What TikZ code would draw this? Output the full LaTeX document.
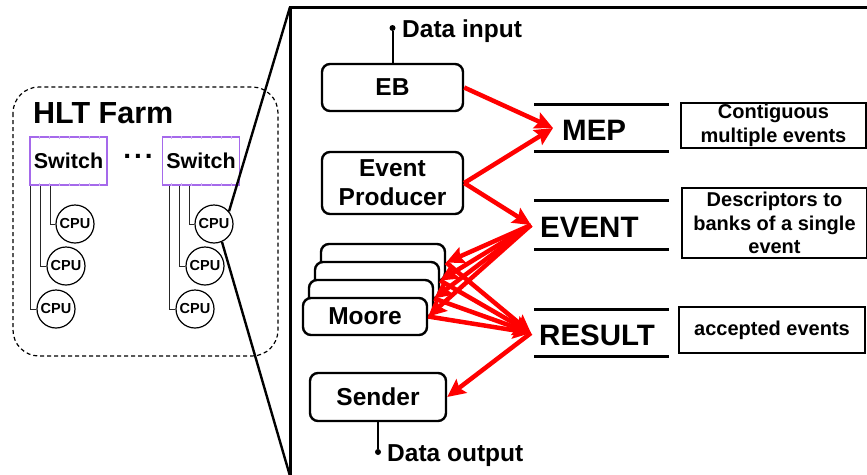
\documentclass[tikz,border=0pt]{standalone}
\usepackage{fontspec}
\setmainfont{Liberation Sans}
\usetikzlibrary{arrows.meta,calc}
\definecolor{swpurple}{RGB}{165,105,235}
\definecolor{tickpurple}{RGB}{205,175,245}
\begin{document}
\begin{tikzpicture}[x=1pt,y=-1pt,
  rbox/.style={draw, line width=2.4pt, rounded corners=8pt, fill=white, inner sep=0pt,
    font=\bfseries\fontsize{24.5}{29}\selectfont, align=center},
  desc/.style={draw, line width=1.6pt, inner sep=0pt,
    font=\bfseries\fontsize{20}{23.5}\selectfont, align=center},
  bustag/.style={anchor=base west, inner sep=0pt, font=\bfseries\fontsize{29.5}{34}\selectfont},
  hrule/.style={line width=3pt},
  redflow/.style={draw=red, line width=4.5pt, -{Stealth[length=18pt,width=17pt,inset=3pt]}},
  switchbox/.style={draw=swpurple, line width=1.5pt, minimum width=77pt, minimum height=48pt,
    inner sep=0pt, font=\bfseries\fontsize{21.5}{26}\selectfont},
  cpu/.style={draw, circle, line width=1.2pt, minimum size=38pt, inner sep=0pt, fill=white,
    font=\bfseries\fontsize{14.5}{16}\selectfont},
  wire/.style={line width=1pt, draw=black!85},
  joint/.style={circle, fill=black, inner sep=0pt, minimum size=6pt},
  iolabel/.style={anchor=base west, inner sep=0pt, font=\bfseries\fontsize{24.5}{29}\selectfont},
  tick/.style={draw=tickpurple, line width=0.8pt},
]
\useasboundingbox (0,0) rectangle (867,474);

% ---------- HLT farm ----------
\draw[dash pattern=on 4pt off 3pt, line width=1.2pt, rounded corners=26pt] (13,87) rectangle (278,356);
\node[anchor=base west, inner sep=0pt, font=\bfseries\fontsize{30.5}{34}\selectfont] (farm) at (33,123) {HLT Farm};

\node[switchbox] (sw1) at (68.5,161) {Switch};
\node[switchbox] (sw2) at (201,161) {Switch};
\node[anchor=base, inner sep=0pt, font=\bfseries\fontsize{28}{32}\selectfont] (dots) at (138,158.5) {.\kern3pt.\kern3pt.};

\foreach \s in {sw1,sw2}
  \foreach \k in {1,...,7} {
    \draw[tick] ($(\s.north west)+(10*\k,0)$) -- ++(0,2.5);
    \draw[tick] ($(\s.south west)+(10*\k,0)$) -- ++(0,-2.5);
  }

\node[cpu] (c11) at (75,224) {CPU};
\node[cpu] (c12) at (66,266) {CPU};
\node[cpu] (c13) at (56,309) {CPU};
\node[cpu] (c21) at (214,224) {CPU};
\node[cpu] (c22) at (205,266) {CPU};
\node[cpu] (c23) at (195,309) {CPU};

\draw[wire] (sw1.south west) ++(21,0) |- (c11.west);
\draw[wire] (sw1.south west) ++(11,0) |- (c12.west);
\draw[wire] (sw1.south west) ++(1,0)  |- (c13.west);
\draw[wire] (sw2.south west) ++(27.5,0) |- (c21.west);
\draw[wire] (sw2.south west) ++(17.5,0) |- (c22.west);
\draw[wire] (sw2.south west) ++(8,0)  |- (c23.west);

% ---------- magnified frame ----------
\coordinate (ftl) at (290,7);
\coordinate (fbl) at (290,476);
\draw[line width=3pt] (fbl) -- (ftl) -- (870,7);
\draw[line width=2.4pt] (ftl) -- (c21.40);
\draw[line width=2.4pt] (c21.-66) -- (fbl);

% ---------- processing chain ----------
\node[rbox, minimum width=141pt, minimum height=47pt] (eb) at (392.5,87.5) {EB};
\node[rbox, minimum width=141pt, minimum height=62pt] (ep) at (392.5,183) {Event\\Producer};

\node[rbox, minimum width=124pt, minimum height=37pt] (m4) at (383,262.5) {};
\node[rbox, minimum width=124pt, minimum height=37pt] (m3) at (377,280.5) {};
\node[rbox, minimum width=124pt, minimum height=37pt] (m2) at (371,298.5) {};
\node[rbox, minimum width=124pt, minimum height=37pt] (m1) at (365,316.5) {Moore};

\node[rbox, minimum width=136pt, minimum height=48pt] (snd) at (378,397) {Sender};

\node[joint] (inpin) at (392.5,28) {};
\draw[line width=2pt] (inpin) -- (eb.north);
\node[iolabel] (intext) at (402,37) {Data input};

\node[joint] (outpin) at (378,452) {};
\draw[line width=2pt] (snd.south) -- (outpin);
\node[iolabel] (outtext) at (387,461) {Data output};

% ---------- buffers ----------
\node[bustag] (mep) at (562,140) {MEP};
\node[bustag] (evt) at (540,237) {EVENT};
\node[bustag] (res) at (539,345) {RESULT};
\draw[hrule] (534,104) -- (669,104);
\draw[hrule] (534,151) -- (669,151);
\draw[hrule] (534,200) -- (669,200);
\draw[hrule] (534,249) -- (669,249);
\draw[hrule] (534,309) -- (669,309);
\draw[hrule] (534,356) -- (669,356);

\coordinate (mepin) at (553,128);
\coordinate (evin) at (531,225);
\coordinate (resin) at (531,333);

\draw[redflow] (eb.east) -- (mepin);
\draw[redflow] (ep.east) -- (mepin);
\draw[redflow] (ep.east) -- (evin);
\foreach \m in {m1,m2,m3,m4} {
  \draw[redflow] (evin) -- (\m.east);
  \draw[redflow] (\m.east) -- (resin);
}
\draw[redflow] (resin) -- (snd.east);

\node[desc, minimum width=185pt, minimum height=45pt] (d1) at (773.5,125.5) {Contiguous\\multiple events};
\node[desc, minimum width=185pt, minimum height=70pt] (d2) at (774.5,223) {Descriptors to\\banks of a single\\event};
\node[desc, minimum width=186pt, minimum height=46pt] (d3) at (772,330) {accepted events};
\end{tikzpicture}
\end{document}
